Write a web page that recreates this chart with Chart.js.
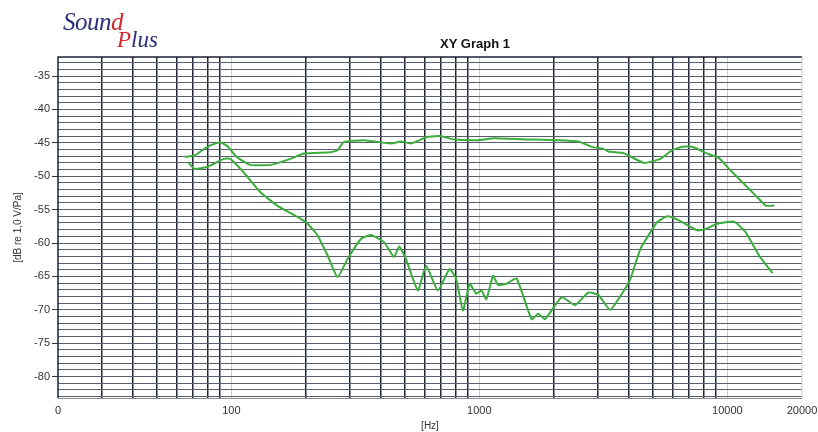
<!DOCTYPE html>
<html>
<head>
<meta charset="utf-8">
<script src="https://cdn.jsdelivr.net/npm/chart.js@4/dist/chart.umd.min.js"></script>
<style>
  html, body { margin: 0; padding: 0; background: #fff; }
  #wrap { position: relative; width: 818px; height: 432px; }
  #chart { position: absolute; left: 0; top: 0; }
  .logo { position: absolute; font-family: "Liberation Serif", "DejaVu Serif", serif; font-style: italic; white-space: nowrap; }
  #logo1 { left: 63px; top: 8px; font-size: 25px; color: #2b2d7c; letter-spacing: -0.5px; }
  #logo2 { left: 117px; top: 27px; font-size: 23px; color: #2b2d7c; }
  .red { color: #d2282e; }
  #title { position: absolute; left: 0; width: 950px; top: 36px; text-align: center;
           font: bold 13px "Liberation Sans", Arial, sans-serif; color: #111; }
</style>
</head>
<body>
<div id="wrap">
  <canvas id="chart" width="818" height="432"></canvas>
  <div class="logo" id="logo1">Soun<span class="red">d</span></div>
  <div class="logo" id="logo2"><span class="red">P</span>lus</div>
  <div id="title">XY Graph 1</div>
</div>
<script>
// valores (frequência em Hz, nível em dB re 1,0 V/Pa)
const freqA = [65, 71, 80, 90, 97, 105, 119, 144, 173, 196, 252, 268, 284, 342, 440, 483, 530, 620, 702, 792,
  988, 1150, 1624, 2012, 2510, 2841, 3168, 3319, 3757, 4000, 4601, 5370, 5990, 6574, 7217, 8170, 9255, 10160,
  11500, 13020, 14290, 15460];
const dbA = [-47.1, -46.9, -45.6, -44.9, -45.6, -47.1, -48.3, -48.3, -47.4, -46.6, -46.4, -46.1, -44.9, -44.6,
  -45.1, -44.8, -45.1, -44.1, -44.0, -44.5, -44.6, -44.3, -44.5, -44.6, -44.8, -45.6, -45.9, -46.3, -46.5,
  -46.9, -48.0, -47.4, -46.1, -45.6, -45.6, -46.5, -47.3, -48.9, -50.9, -52.9, -54.4, -54.4];

const freqB = [67, 71, 80, 93, 99, 112, 131, 153, 185, 203, 222, 244, 268, 294, 333, 365, 413, 453, 475, 506,
  565, 610, 680, 758, 807, 859, 914, 972, 1019, 1067, 1136, 1190, 1286, 1412, 1624, 1729, 1838, 2148, 2431,
  2755, 3024, 3369, 3757, 4060, 4457, 4819, 5207, 5718, 6375, 7560, 8170, 9110, 10640, 11860, 13440, 15210];
const dbB = [-47.9, -48.9, -48.6, -47.4, -47.4, -49.4, -52.4, -54.4, -56.1, -57.1, -58.8, -61.8, -65.1, -62.4,
  -59.4, -58.8, -59.9, -62.1, -60.5, -62.4, -67.1, -63.4, -67.1, -63.9, -65.4, -70.1, -66.1, -67.6, -67.1,
  -68.4, -64.9, -66.3, -66.1, -65.3, -71.4, -70.6, -71.4, -68.1, -69.3, -67.4, -67.8, -70.0, -67.6, -65.4,
  -60.9, -58.8, -56.9, -56.0, -56.6, -58.1, -57.9, -57.1, -56.8, -58.4, -61.9, -64.5];

// linhas verticais do eixo log e os rótulos que aparecem
const xTicks = [20, 30, 40, 50, 60, 70, 80, 90, 100, 200, 300, 400, 500, 600, 700, 800, 900,
  1000, 2000, 3000, 4000, 5000, 6000, 7000, 8000, 9000, 10000, 20000];
const xLabels = { 20: "0", 100: "100", 1000: "1000", 10000: "10000", 20000: "20000" };
const decadas = [100, 1000, 10000];

const yMin = -83.2, yMax = -32.15;
const yTicks = [];
for (let v = -83; v <= -33; v++) yTicks.push(v);

const fonte = { family: "Liberation Sans, Arial, sans-serif", size: 11 };
const verde = "#3cad3c";

// moldura do gráfico: topo/esquerda escuros, direita clara
const moldura = {
  id: "moldura",
  beforeDatasetsDraw(chart) {
    const { ctx, chartArea: a } = chart;
    ctx.save();
    ctx.lineWidth = 1.5;
    ctx.strokeStyle = "#1c2233";
    ctx.beginPath();
    ctx.moveTo(a.left, a.bottom); ctx.lineTo(a.left, a.top); ctx.lineTo(a.right, a.top);
    ctx.stroke();
    ctx.lineWidth = 1;
    ctx.strokeStyle = "#8a8f99";
    ctx.beginPath();
    ctx.moveTo(a.left, a.bottom + 0.5); ctx.lineTo(a.right, a.bottom + 0.5);
    ctx.stroke();
    ctx.strokeStyle = "#c4c8d0";
    ctx.beginPath();
    ctx.moveTo(a.right, a.top); ctx.lineTo(a.right, a.bottom);
    ctx.stroke();
    ctx.restore();
  }
};

new Chart(document.getElementById("chart").getContext("2d"), {
  type: "line",
  data: {
    datasets: [
      { data: freqA.map((f, i) => ({ x: f, y: dbA[i] })), borderColor: verde, borderWidth: 2, pointRadius: 0, tension: 0.15 },
      { data: freqB.map((f, i) => ({ x: f, y: dbB[i] })), borderColor: verde, borderWidth: 2, pointRadius: 0, tension: 0.15 }
    ]
  },
  options: {
    responsive: false,
    animation: false,
    layout: { padding: { top: 57, right: 16, left: 0, bottom: 0 } },
    plugins: { legend: { display: false }, tooltip: { enabled: false } },
    scales: {
      x: {
        type: "logarithmic",
        min: 20,
        max: 20000,
        afterBuildTicks: (s) => { s.ticks = xTicks.map(v => ({ value: v })); },
        afterFit: (s) => { s.height = 34; s.paddingLeft = 0; s.paddingRight = 0; },
        border: { display: false },
        grid: {
          drawTicks: false,
          color: (c) => decadas.includes(c.tick && c.tick.value) ? "#c3cbe0" : (c.tick && (c.tick.value === 20 || c.tick.value === 20000) ? "rgba(0,0,0,0)" : "#1f2638"),
          lineWidth: (c) => decadas.includes(c.tick && c.tick.value) ? 1 : 1.5
        },
        ticks: {
          autoSkip: false,
          maxRotation: 0,
          padding: 6,
          color: "#333",
          font: fonte,
          callback: (v) => xLabels[v] || ""
        },
        title: { display: true, text: "[Hz]", color: "#333", font: { family: fonte.family, size: 10 }, padding: { top: 0, bottom: 0 } }
      },
      y: {
        min: yMin,
        max: yMax,
        afterBuildTicks: (s) => { s.ticks = yTicks.map(v => ({ value: v })); },
        afterFit: (s) => { s.width = 58; s.paddingTop = 0; s.paddingBottom = 0; },
        border: { display: false },
        grid: {
          color: "#5a5f6b",
          lineWidth: 1,
          tickLength: 6,
          tickColor: (c) => (c.tick && c.tick.value % 5 === 0) ? "#333" : "rgba(0,0,0,0)"
        },
        ticks: {
          autoSkip: false,
          padding: 2,
          color: "#333",
          font: fonte,
          callback: (v) => (v % 5 === 0 ? String(v) : "")
        },
        title: { display: true, text: "[dB re 1,0 V/Pa]", color: "#333", font: { family: fonte.family, size: 10 }, padding: { top: 12, bottom: 0 } }
      }
    }
  },
  plugins: [moldura]
});
</script>
</body>
</html>
